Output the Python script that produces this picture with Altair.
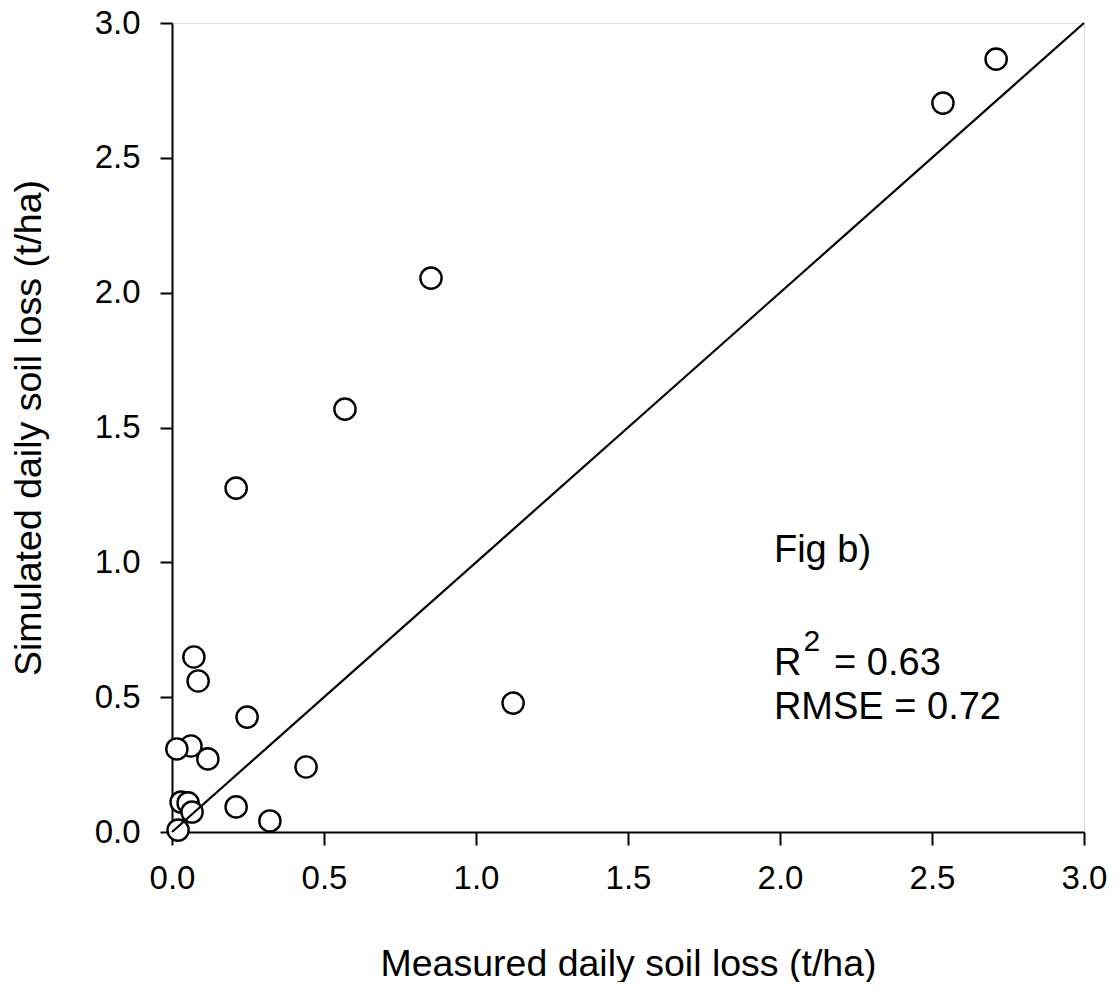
import altair as alt
import pandas as pd

measured = [2.711, 2.536, 0.852, 0.569, 0.211, 0.072, 0.086, 0.247, 1.122, 0.0625, 0.016,
            0.118, 0.441, 0.211, 0.322, 0.030, 0.053, 0.066, 0.020]
simulated = [2.866, 2.703, 2.054, 1.568, 1.275, 0.649, 0.560, 0.426, 0.478, 0.319, 0.308,
             0.271, 0.241, 0.093, 0.041, 0.111, 0.108, 0.074, 0.007]

line_x = [0.0, 3.0]
line_y = [0.0, 3.0]

FONT = "Liberation Sans"

pts = pd.DataFrame({"m": measured, "s": simulated})
ln = pd.DataFrame({"m": line_x, "s": line_y})

xs = alt.Scale(domain=[0, 3], nice=False, zero=False)
ys = alt.Scale(domain=[0, 3], nice=False, zero=False)
ticks = [0.0, 0.5, 1.0, 1.5, 2.0, 2.5, 3.0]

xaxis = alt.Axis(values=ticks, format=".1f", grid=False, domainColor="black", domainWidth=2,
                 tickColor="black", tickWidth=2, tickSize=13, labelFontSize=33, labelFont=FONT,
                 labelColor="black", labelPadding=17, title="Measured daily soil loss (t/ha)",
                 titleFont=FONT, titleFontSize=37.5, titleFontWeight="normal", titleColor="black",
                 titlePadding=50, labelFlush=False, labelOverlap=False)
yaxis = alt.Axis(values=ticks, format=".1f", grid=False, domainColor="black", domainWidth=2,
                 tickColor="black", tickWidth=2, tickSize=12, labelFontSize=33, labelFont=FONT,
                 labelColor="black", labelPadding=20, title="Simulated daily soil loss (t/ha)",
                 titleFont=FONT, titleFontSize=37.5, titleFontWeight="normal", titleColor="black",
                 titlePadding=46, labelFlush=False, labelOverlap=False)

points = alt.Chart(pts).mark_point(shape="circle", filled=False, fill="white", fillOpacity=1,
                                   stroke="black", strokeWidth=2.4, size=450, opacity=1).encode(
    x=alt.X("m:Q", scale=xs, axis=xaxis),
    y=alt.Y("s:Q", scale=ys, axis=yaxis),
)

line = alt.Chart(ln).mark_line(color="black", strokeWidth=2.2).encode(
    x=alt.X("m:Q", scale=xs),
    y=alt.Y("s:Q", scale=ys),
)

ann_text = ["Fig b)", "R", "2", "= 0.63", "RMSE = 0.72"]
ann_x = [1.98, 1.98, 2.077, 2.178, 1.98]
ann_y = [1.042, 0.622, 0.705, 0.622, 0.46]
ann_size = [38, 38, 30, 38, 38]
ann = pd.DataFrame({"t": ann_text, "x": ann_x, "y": ann_y, "fs": ann_size})

texts = alt.Chart(ann).mark_text(align="left", baseline="middle", font=FONT, color="black").encode(
    x=alt.X("x:Q", scale=xs),
    y=alt.Y("y:Q", scale=ys),
    text="t:N",
    size=alt.Size("fs:Q", scale=None, legend=None),
)

chart = alt.layer(points, line, texts).properties(
    width=912, height=809,
    autosize=alt.AutoSizeParams(type="none"),
    padding={"left": 164, "top": 15, "right": 25, "bottom": 150},
).configure_view(stroke=None).configure(background="white")

chart.save("out.html", embed_options={"renderer": "svg", "actions": False})
